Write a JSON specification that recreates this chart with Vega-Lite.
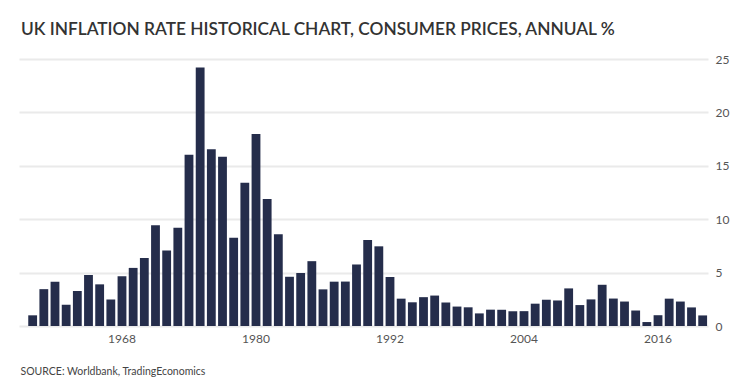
{
  "$schema": "https://vega.github.io/schema/vega-lite/v6.json",
  "width": 689,
  "height": 267,
  "autosize": "none",
  "padding": {"left": 19, "top": 59, "right": 42, "bottom": 64},
  "background": "white",
  "title": {
    "text": "UK INFLATION RATE HISTORICAL CHART, CONSUMER PRICES, ANNUAL %",
    "anchor": "start",
    "frame": "group",
    "dx": 2,
    "offset": 15,
    "font": "Lato",
    "fontSize": 17.3,
    "fontWeight": 600,
    "color": "#333333"
  },
  "data": {
    "values": [
      {"year": 1960, "inflation": 1.0},
      {"year": 1961, "inflation": 3.45},
      {"year": 1962, "inflation": 4.14},
      {"year": 1963, "inflation": 1.99},
      {"year": 1964, "inflation": 3.28},
      {"year": 1965, "inflation": 4.77},
      {"year": 1966, "inflation": 3.9},
      {"year": 1967, "inflation": 2.49},
      {"year": 1968, "inflation": 4.65},
      {"year": 1969, "inflation": 5.44},
      {"year": 1970, "inflation": 6.37},
      {"year": 1971, "inflation": 9.44},
      {"year": 1972, "inflation": 7.07},
      {"year": 1973, "inflation": 9.2},
      {"year": 1974, "inflation": 16.04},
      {"year": 1975, "inflation": 24.21},
      {"year": 1976, "inflation": 16.56},
      {"year": 1977, "inflation": 15.84},
      {"year": 1978, "inflation": 8.26},
      {"year": 1979, "inflation": 13.42},
      {"year": 1980, "inflation": 17.97},
      {"year": 1981, "inflation": 11.88},
      {"year": 1982, "inflation": 8.6},
      {"year": 1983, "inflation": 4.61},
      {"year": 1984, "inflation": 4.96},
      {"year": 1985, "inflation": 6.07},
      {"year": 1986, "inflation": 3.43},
      {"year": 1987, "inflation": 4.15},
      {"year": 1988, "inflation": 4.16},
      {"year": 1989, "inflation": 5.76},
      {"year": 1990, "inflation": 8.06},
      {"year": 1991, "inflation": 7.46},
      {"year": 1992, "inflation": 4.59},
      {"year": 1993, "inflation": 2.56},
      {"year": 1994, "inflation": 2.22},
      {"year": 1995, "inflation": 2.7},
      {"year": 1996, "inflation": 2.85},
      {"year": 1997, "inflation": 2.2},
      {"year": 1998, "inflation": 1.82},
      {"year": 1999, "inflation": 1.75},
      {"year": 2000, "inflation": 1.18},
      {"year": 2001, "inflation": 1.53},
      {"year": 2002, "inflation": 1.52},
      {"year": 2003, "inflation": 1.38},
      {"year": 2004, "inflation": 1.39},
      {"year": 2005, "inflation": 2.09},
      {"year": 2006, "inflation": 2.46},
      {"year": 2007, "inflation": 2.39},
      {"year": 2008, "inflation": 3.52},
      {"year": 2009, "inflation": 1.96},
      {"year": 2010, "inflation": 2.49},
      {"year": 2011, "inflation": 3.86},
      {"year": 2012, "inflation": 2.57},
      {"year": 2013, "inflation": 2.29},
      {"year": 2014, "inflation": 1.45},
      {"year": 2015, "inflation": 0.37},
      {"year": 2016, "inflation": 1.01},
      {"year": 2017, "inflation": 2.56},
      {"year": 2018, "inflation": 2.29},
      {"year": 2019, "inflation": 1.74},
      {"year": 2020, "inflation": 0.99}
    ]
  },
  "mark": {"type": "bar", "color": "#252d4b"},
  "encoding": {
    "x": {
      "field": "year",
      "type": "ordinal",
      "scale": {"paddingInner": 0.21, "paddingOuter": 0.455, "align": 0.91},
      "axis": {
        "values": [1968, 1980, 1992, 2004, 2016],
        "bandPosition": 0,
        "labelAngle": 0,
        "ticks": false,
        "domain": false,
        "grid": false,
        "labelPadding": 7,
        "labelFont": "Lato",
        "labelFontSize": 12,
        "labelColor": "#555555",
        "title": "SOURCE: Worldbank, TradingEconomics",
        "titleAnchor": "start",
        "titleAlign": "left",
        "titleX": 1,
        "titleY": 40,
        "titleFont": "Lato",
        "titleFontSize": 10.5,
        "titleFontWeight": "normal",
        "titleColor": "#444444"
      }
    },
    "y": {
      "field": "inflation",
      "type": "quantitative",
      "scale": {"domain": [0, 25], "nice": false},
      "axis": {
        "orient": "right",
        "values": [0, 5, 10, 15, 20, 25],
        "ticks": false,
        "domain": false,
        "grid": true,
        "gridColor": "#eaeaea",
        "gridWidth": 2,
        "labelPadding": 7,
        "labelFont": "Lato",
        "labelFontSize": 12,
        "labelColor": "#555555",
        "title": null
      }
    }
  },
  "config": {"view": {"stroke": null}}
}
